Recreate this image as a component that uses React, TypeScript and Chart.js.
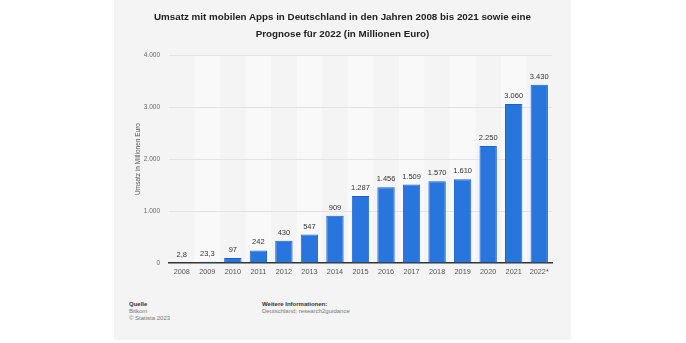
import React, { useEffect, useRef } from "react";
import { Chart, registerables } from "chart.js";

Chart.register(...registerables);

const categories = ["2008", "2009", "2010", "2011", "2012", "2013", "2014", "2015", "2016", "2017", "2018", "2019", "2020", "2021", "2022*"];
const revenue = [2.8, 23.3, 97, 242, 430, 547, 909, 1287, 1456, 1509, 1570, 1610, 2250, 3060, 3430];
const yTicks = [0, 1000, 2000, 3000, 4000];
const titleLines = [
  "Umsatz mit mobilen Apps in Deutschland in den Jahren 2008 bis 2021 sowie eine",
  "Prognose für 2022 (in Millionen Euro)",
];

const FONT = "'Liberation Sans', Arial, Helvetica, sans-serif";

const fmt = (v: number) =>
  v.toLocaleString("de-DE", { maximumFractionDigits: 1 });

const bandsPlugin = {
  id: "bands",
  beforeDraw(chart: any) {
    const { ctx, chartArea, scales } = chart;
    const x = scales.x;
    const step = (chartArea.right - chartArea.left) / categories.length;
    ctx.save();
    categories.forEach((_, i) => {
      if (i % 2 === 1) {
        const cx = x.getPixelForValue(i);
        ctx.fillStyle = "#f9f9f9";
        ctx.fillRect(cx - step / 2, chartArea.top, step, chartArea.bottom - chartArea.top);
      }
    });
    ctx.restore();
  },
};

const labelsPlugin = {
  id: "valueLabels",
  afterDatasetsDraw(chart: any) {
    const { ctx } = chart;
    const meta = chart.getDatasetMeta(0);
    ctx.save();
    ctx.font = `7.5px ${FONT}`;
    ctx.fillStyle = "#333";
    ctx.textAlign = "center";
    ctx.textBaseline = "middle";
    meta.data.forEach((bar: any, i: number) => {
      ctx.fillText(fmt(revenue[i]), bar.x, bar.y - 8);
    });
    ctx.restore();
  },
};

export default function App() {
  const ref = useRef<HTMLCanvasElement>(null);

  useEffect(() => {
    if (!ref.current) return;
    const chart = new Chart(ref.current, {
      type: "bar",
      data: {
        labels: categories,
        datasets: [
          {
            data: revenue,
            backgroundColor: "#2876dd",
            borderColor: "#1a62d2",
            borderWidth: 1,
            categoryPercentage: 1,
            barPercentage: 0.68,
          },
        ],
      },
      options: {
        animation: false,
        responsive: false,
        maintainAspectRatio: false,
        layout: { padding: { top: 55, left: 20, right: 19, bottom: 0 } },
        plugins: {
          legend: { display: false },
          tooltip: { enabled: false },
          title: { display: false },
        },
        scales: {
          x: {
            grid: { display: false, drawTicks: false },
            border: { display: true, color: "#333", width: 1.5 },
            ticks: {
              color: "#555",
              font: { size: 7.3, family: FONT },
              padding: 5,
              maxRotation: 0,
              autoSkip: false,
            },
            afterFit(scale: any) {
              scale.height = 27;
            },
          },
          y: {
            min: 0,
            max: 4000,
            afterBuildTicks(scale: any) {
              scale.ticks = yTicks.map((v) => ({ value: v }));
            },
            grid: {
              drawTicks: false,
              color: (c: any) => (c.tick && c.tick.value === 0 ? "rgba(0,0,0,0)" : "#e3e3e3"),
              lineWidth: 1,
            },
            border: { display: false },
            ticks: {
              color: "#666",
              font: { size: 6.5, family: FONT },
              padding: 9,
              callback: (v: any) => fmt(Number(v)),
            },
            title: {
              display: true,
              text: "Umsatz in Millionen Euro",
              color: "#555",
              font: { size: 6.5, family: FONT },
              padding: 0,
            },
            afterFit(scale: any) {
              scale.width = 35;
            },
          },
        },
      },
      plugins: [bandsPlugin, labelsPlugin],
    } as any);
    return () => chart.destroy();
  }, []);

  return (
    <div style={{ position: "fixed", left: 0, top: 0, width: 686, height: 343, background: "#fff", fontFamily: FONT }}>
      <div style={{ position: "absolute", left: 114, top: 0, width: 457, height: 340, background: "#f4f4f4" }}>
        <canvas ref={ref} width={457} height={290} style={{ position: "absolute", left: 0, top: 0, width: 457, height: 290 }} />
        <div style={{ position: "absolute", left: 0, top: 8, width: 457, textAlign: "center", fontWeight: "bold", fontSize: 9.8, lineHeight: "17px", color: "#222" }}>
          {titleLines.map((t, i) => (
            <div key={i}>{t}</div>
          ))}
        </div>
        <div style={{ position: "absolute", left: 15, top: 301, fontSize: 6, lineHeight: "7px", color: "#777" }}>
          <div style={{ fontWeight: "bold", color: "#333" }}>Quelle</div>
          <div>Bitkom</div>
          <div>© Statista 2023</div>
        </div>
        <div style={{ position: "absolute", left: 148, top: 301, fontSize: 6, lineHeight: "7px", color: "#777" }}>
          <div style={{ fontWeight: "bold", color: "#333" }}>Weitere Informationen:</div>
          <div>Deutschland; research2guidance</div>
        </div>
      </div>
    </div>
  );
}
